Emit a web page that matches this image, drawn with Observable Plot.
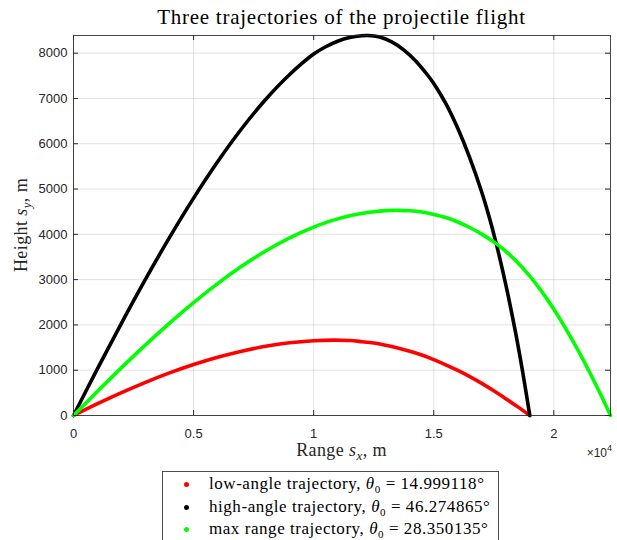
<!DOCTYPE html>
<html><head><meta charset="utf-8">
<script src="https://cdn.jsdelivr.net/npm/d3@7"></script>
<script src="https://cdn.jsdelivr.net/npm/@observablehq/plot@0.6"></script>
<style>
html,body{margin:0;padding:0;background:#fff;}
#wrap{position:relative;width:617px;height:540px;overflow:hidden;}
#legend{position:absolute;left:162px;top:471px;width:337px;height:100px;border:1px solid #4d4d4d;background:#fff;font-family:"Liberation Serif",serif;font-size:17px;color:#000;box-sizing:border-box;padding-top:1px;}
.row{position:relative;height:22.5px;line-height:22.5px;white-space:nowrap;}
.dot{position:absolute;left:21px;top:9px;width:5px;height:5px;border-radius:50%;}
.txt{position:absolute;left:46px;top:0;letter-spacing:0.55px;}
.txt sub{font-size:11px;vertical-align:-4px;line-height:0;}
</style></head><body><div id="wrap"></div>
<script>
// ---- data ----
const titleText = "Three trajectories of the projectile flight";
const xTicks = [0, 5000, 10000, 15000, 20000];
const xTickLabels = ["0", "0.5", "1", "1.5", "2"];
const yTicks = [0, 1000, 2000, 3000, 4000, 5000, 6000, 7000, 8000];
const xMax = 22360, yMax = 8390;

const seriesNames = ["low-angle trajectory", "high-angle trajectory", "max range trajectory"];
const seriesAngles = ["14.999118", "46.274865", "28.350135"];
const seriesColors = ["#ff0000", "#000000", "#00ff00"];

const lowRange = [0,1000,2000,3000,4000,5000,6000,7000,8000,9000,10000,10850,11500,12000,12500,13000,13500,14000,14500,15000,15500,16000,16500,17000,17500,18000,18500,19000];
const lowHeight = [0,261,506,733,940,1125,1286,1421,1528,1605,1650,1665,1655,1630,1600,1550,1490,1420,1335,1235,1120,995,860,710,545,370,190,0];

const highRange = [0,1000,2000,3000,4000,5000,6000,7000,8000,9000,10000,10500,11000,11500,12000,12250,12750,13250,13750,14250,14750,15000,15500,16000,16500,17000,17300,17600,18000,18400,18700,19000];
const highHeight = [0,1035,2041,3011,3933,4800,5602,6331,6976,7528,7980,8142,8263,8344,8385,8390,8355,8250,8074,7828,7512,7330,6890,6340,5690,4930,4400,3800,2890,1850,970,0];

const maxRange = [0,1000,2000,3000,4000,5000,6000,7000,8000,9000,10000,10500,11000,11500,12000,12500,13000,13500,14000,14500,15000,15500,16000,16500,17000,17600,18000,18500,19000,19500,20000,20500,21000,21500,22000,22360];
const maxHeight = [0,535,1057,1560,2040,2493,2912,3293,3631,3922,4160,4258,4341,4409,4462,4500,4523,4530,4520,4491,4440,4370,4273,4151,4004,3794,3625,3375,3078,2735,2345,1913,1447,945,408,0];

// ---- build tables ----
const toRows = (xs, ys) => xs.map((x, i) => ({range: x, height: ys[i]}));
const lowRows = toRows(lowRange, lowHeight);
const highRows = toRows(highRange, highHeight);
const maxRows = toRows(maxRange, maxHeight);

const W = 617, H = 460, mT = 35, mR = 7, mB = 45, mL = 73;
const innerW = W - mL - mR, innerH = H - mT - mB;
const tickLen = 5;
const axisColor = "#262626";
const lineW = 3.6;

const chart = Plot.plot({
  width: W, height: H,
  marginTop: mT, marginRight: mR, marginBottom: mB, marginLeft: mL,
  style: {fontFamily: "'Liberation Sans', Arial, sans-serif", fontSize: "13px", color: axisColor, background: "#fff", overflow: "visible"},
  x: {domain: [0, xMax], label: null},
  y: {domain: [0, yMax], label: null},
  marks: [
    Plot.gridX(xTicks, {stroke: axisColor, strokeOpacity: 0.13}),
    Plot.gridY(yTicks, {stroke: axisColor, strokeOpacity: 0.13}),
    Plot.line(lowRows, {x: "range", y: "height", stroke: seriesColors[0], strokeWidth: lineW, curve: "catmull-rom"}),
    Plot.line(highRows, {x: "range", y: "height", stroke: seriesColors[1], strokeWidth: lineW, curve: "catmull-rom"}),
    Plot.line(maxRows, {x: "range", y: "height", stroke: seriesColors[2], strokeWidth: lineW, curve: "catmull-rom"}),
    Plot.frame({stroke: axisColor, strokeOpacity: 0.85}),
    Plot.tickX(xTicks, {x: d => d, insetTop: innerH - tickLen, stroke: axisColor}),
    Plot.tickX(xTicks, {x: d => d, insetBottom: innerH - tickLen, stroke: axisColor}),
    Plot.tickY(yTicks, {y: d => d, insetRight: innerW - tickLen, stroke: axisColor}),
    Plot.tickY(yTicks, {y: d => d, insetLeft: innerW - tickLen, stroke: axisColor}),
    Plot.axisX(xTicks, {tickSize: 0, tickPadding: 13, fontSize: 13, tickFormat: d => xTickLabels[xTicks.indexOf(d)]}),
    Plot.axisY(yTicks, {tickSize: 0, tickPadding: 6, fontSize: 13, tickFormat: d => String(d)})
  ]
});

const svg = d3.select(chart);
const serif = "'Liberation Serif', 'Times New Roman', serif";

// title
svg.append("text")
  .attr("x", mL + innerW / 2).attr("y", 24)
  .attr("text-anchor", "middle")
  .attr("font-family", serif).attr("font-size", 21).attr("letter-spacing", 0.75)
  .attr("fill", "#000")
  .text(titleText);

// x label
const xl = svg.append("text")
  .attr("x", mL + innerW / 2).attr("y", 456)
  .attr("text-anchor", "middle")
  .attr("font-family", serif).attr("font-size", 18).attr("letter-spacing", 0.4)
  .attr("fill", axisColor);
xl.append("tspan").text("Range ");
xl.append("tspan").attr("font-style", "italic").text("s");
xl.append("tspan").attr("font-style", "italic").attr("font-size", 13).attr("dy", 4).text("x");
xl.append("tspan").attr("dy", -4).text(", m");

// y label
const yl = svg.append("text")
  .attr("transform", `translate(27,${mT + innerH / 2}) rotate(-90)`)
  .attr("text-anchor", "middle")
  .attr("font-family", serif).attr("font-size", 18).attr("letter-spacing", 0.4)
  .attr("fill", axisColor);
yl.append("tspan").text("Height ");
yl.append("tspan").attr("font-style", "italic").text("s");
yl.append("tspan").attr("font-style", "italic").attr("font-size", 13).attr("dy", 4).text("y");
yl.append("tspan").attr("dy", -4).text(", m");

// exponent
const ex = svg.append("text")
  .attr("x", W - 5).attr("y", 457)
  .attr("text-anchor", "end")
  .attr("font-family", "'Liberation Sans', Arial, sans-serif").attr("font-size", 12)
  .attr("fill", axisColor);
ex.append("tspan").text("\u00d710");
ex.append("tspan").attr("font-size", 9).attr("dy", -6).text("4");

const wrap = document.getElementById("wrap");
wrap.appendChild(chart);

// legend
const leg = document.createElement("div");
leg.id = "legend";
seriesNames.forEach((name, i) => {
  const row = document.createElement("div");
  row.className = "row";
  row.innerHTML = `<span class="dot" style="background:${seriesColors[i]}"></span><span class="txt">${name}, <i>θ</i><sub>0</sub> = ${seriesAngles[i]}°</span>`;
  leg.appendChild(row);
});
wrap.appendChild(leg);
</script></body></html>
